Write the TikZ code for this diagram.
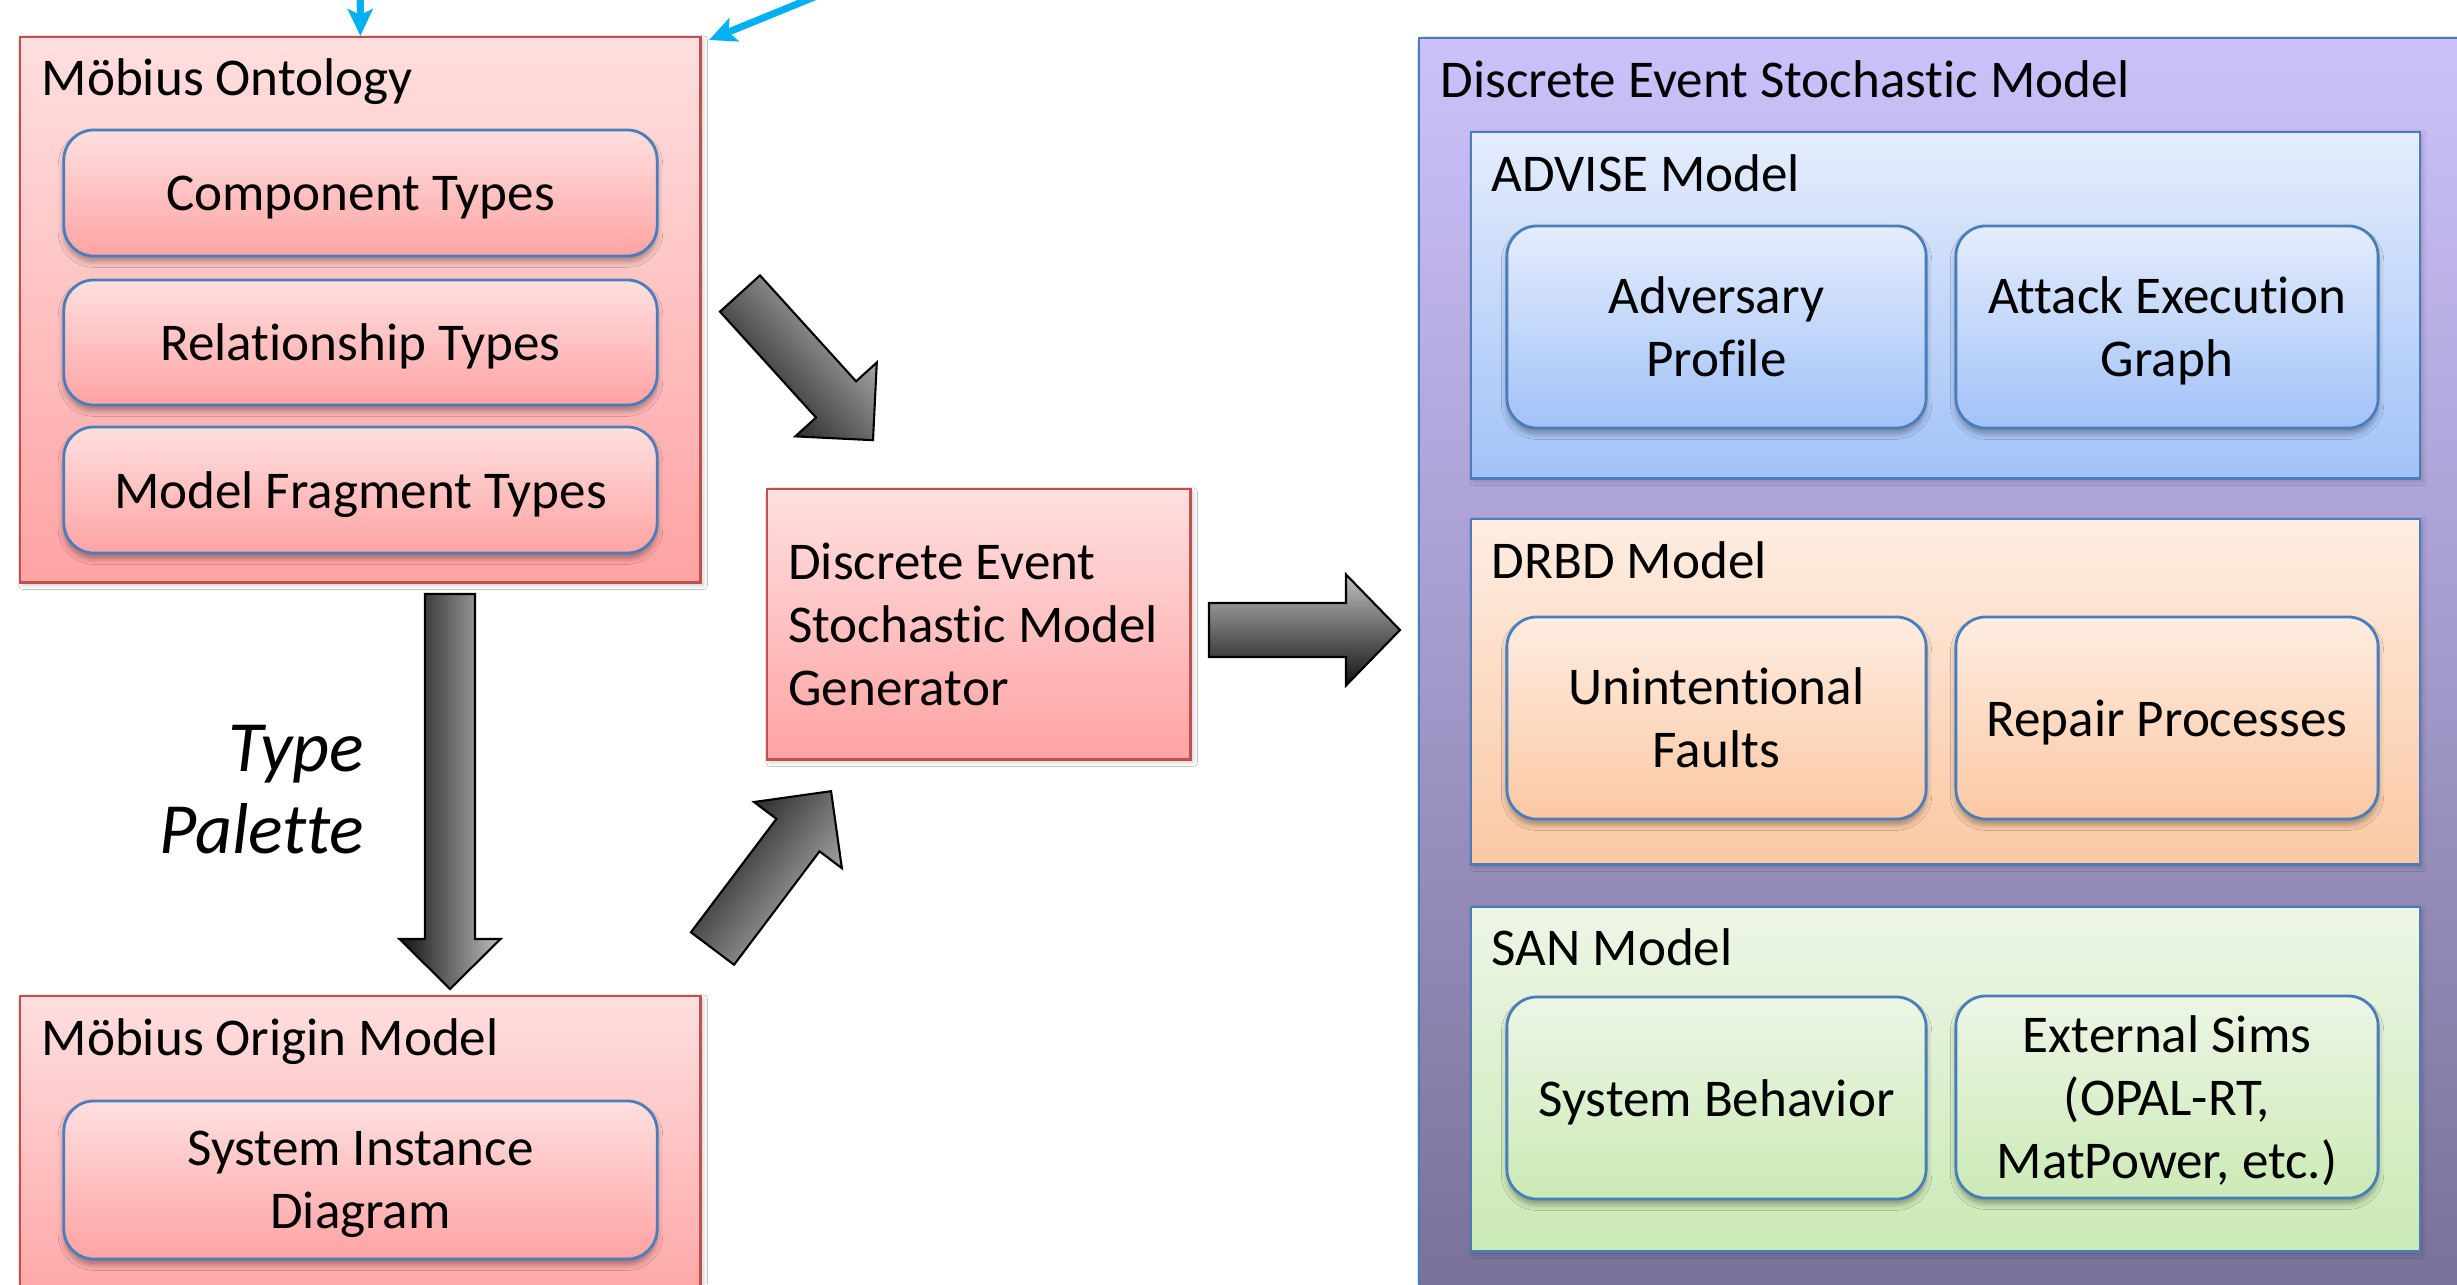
\documentclass[tikz,border=0pt]{standalone}
\usepackage{fontspec}
\setmainfont{Carlito}[Ligatures={NoCommon,NoContextual}]
\usetikzlibrary{arrows.meta,shadows.blur}
\definecolor{redB}{HTML}{C0504D}
\definecolor{blueB}{HTML}{4A7EBB}
\definecolor{pinkT}{HTML}{FFDFDF}
\definecolor{pinkB}{HTML}{FFA3A3}
\definecolor{bluT}{HTML}{E4EDFC}
\definecolor{bluB}{HTML}{A2C2F8}
\definecolor{peaT}{HTML}{FEEDE2}
\definecolor{peaB}{HTML}{FBC8A3}
\definecolor{grnT}{HTML}{EDF6E6}
\definecolor{grnB}{HTML}{CBEAB5}
\definecolor{purT}{HTML}{CDC1FB}
\definecolor{purB}{HTML}{766E96}
\definecolor{cyanA}{HTML}{00B0F0}
\tikzset{
  txt/.style={font=\fontsize{15.1pt}{17.9pt}\selectfont},
  outer/.style={draw, line width=0.7pt, anchor=north west, inner sep=0pt,
    blur shadow={shadow xshift=0.8pt, shadow yshift=-0.8pt, shadow blur radius=1.2pt, shadow opacity=20}},
  inbox/.style={draw=blueB, line width=0.8pt, rounded corners=0.3cm, align=center, txt, inner sep=0pt, text depth=0pt,
    blur shadow={shadow xshift=0pt, shadow yshift=-1.6pt, shadow blur radius=1.6pt, shadow opacity=35}},
  ttl/.style={txt, anchor=base west, inner sep=0pt},
  pinkfill/.style={top color=pinkT, bottom color=pinkB},
  blufill/.style={top color=bluT, bottom color=bluB},
  peafill/.style={top color=peaT, bottom color=peaB},
  grnfill/.style={top color=grnT, bottom color=grnB},
  blk/.style={draw=black, line width=0.6pt, line join=miter, top color=black!25, bottom color=black!93},
  bluearrow/.style={draw=cyanA, line width=2pt, -{Stealth[length=0.27cm,width=0.25cm,inset=0.06cm]}}
}
\begin{document}
\begin{tikzpicture}[x=0.01cm, y=-0.01cm]
\useasboundingbox (0,0) rectangle (2457,1284);
\fill[white] (0,0) rectangle (2457,1284);
\clip (0,0) rectangle (2457,1284);

% ---------- left column ----------
\node[outer, draw=redB, pinkfill, minimum width=6.80cm, minimum height=5.45cm] (onto) at (19,36) {};
\node[ttl] (ontot) at (41,95) {Möbius Ontology};
\node[inbox, pinkfill, minimum width=5.93cm, minimum height=1.26cm] (comp) at (360.5,193) {Component Types};
\node[inbox, pinkfill, minimum width=5.93cm, minimum height=1.25cm] (rel) at (360.5,342.5) {Relationship Types};
\node[inbox, pinkfill, minimum width=5.93cm, minimum height=1.26cm] (frag) at (360.5,490) {Model Fragment Types};

\node[outer, draw=redB, pinkfill, minimum width=6.80cm, minimum height=3.20cm] (origin) at (19,995) {};
\node[ttl] (origint) at (41,1055) {Möbius Origin Model};
\node[inbox, pinkfill, minimum width=5.93cm, minimum height=1.58cm] (sid) at (360.5,1180) {System Instance\\Diagram};

\node[anchor=east, inner sep=0pt, align=right, font=\fontsize{20.5pt}{23.3pt}\selectfont\itshape] (palette) at (365,790) {Type\\Palette};

% ---------- generator ----------
\node[outer, draw=redB, pinkfill, minimum width=4.23cm, minimum height=2.70cm, text width=3.81cm,
      inner xsep=0.21cm, align=flush left, txt] (gen) at (766,488) {Discrete Event\\Stochastic Model\\Generator};

% ---------- right column ----------
\node[outer, draw=blueB, top color=purT, bottom color=purB, minimum width=11.00cm, minimum height=13.00cm] (desm) at (1418,37) {};
\node[ttl] (desmt) at (1440,97) {Discrete Event Stochastic Model};

\node[outer, draw=blueB, blufill, minimum width=9.48cm, minimum height=3.46cm] (advise) at (1470,131) {};
\node[ttl] (adviset) at (1491,191) {ADVISE Model};
\node[inbox, blufill, minimum width=4.19cm, minimum height=2.02cm] (adv) at (1716.5,327) {Adversary\\Profile};
\node[inbox, blufill, minimum width=4.22cm, minimum height=2.02cm] (aeg) at (2167,327) {Attack Execution\\Graph};

\node[outer, draw=blueB, peafill, minimum width=9.48cm, minimum height=3.45cm] (drbd) at (1470,518) {};
\node[ttl] (drbdt) at (1491,578) {DRBD Model};
\node[inbox, peafill, minimum width=4.19cm, minimum height=2.02cm] (uf) at (1716.5,718) {Unintentional\\Faults};
\node[inbox, peafill, minimum width=4.22cm, minimum height=2.02cm] (rp) at (2167,718) {Repair Processes};

\node[outer, draw=blueB, grnfill, minimum width=9.48cm, minimum height=3.44cm] (san) at (1470,906) {};
\node[ttl] (sant) at (1491,965) {SAN Model};
\node[inbox, grnfill, minimum width=4.19cm, minimum height=2.02cm] (sb) at (1716.5,1098) {System Behavior};
\node[inbox, grnfill, minimum width=4.22cm, minimum height=2.02cm] (ext) at (2167,1097) {External Sims\\(OPAL-RT,\\MatPower, etc.)};

% ---------- block arrows ----------
% ontology -> generator
\begin{scope}[shift={(740,293.5)}, rotate=-47.8]
\shade[blk, shading angle=-48] (0,-27) -- (143,-27) -- (143,-55) -- (198,0) -- (143,55) -- (143,27) -- (0,27) -- cycle;
\end{scope}
% origin -> generator
\begin{scope}[shift={(712.5,948.5)}, rotate=53]
\shade[blk, shading angle=-127] (0,-27) -- (142,-27) -- (142,-55) -- (197,0) -- (142,55) -- (142,27) -- (0,27) -- cycle;
\end{scope}
% generator -> model
\begin{scope}[shift={(1209,630)}, rotate=0]
\shade[blk] (0,-27) -- (137,-27) -- (137,-55.5) -- (191,0) -- (137,55.5) -- (137,27) -- (0,27) -- cycle;
\end{scope}
% ontology -> origin (type palette)
\begin{scope}[shift={(450,594)}, rotate=-90]
\shade[blk, shading angle=-90] (0,-25) -- (345,-25) -- (345,-50.5) -- (395,0) -- (345,50.5) -- (345,25) -- (0,25) -- cycle;
\end{scope}

% ---------- blue arrows from above ----------
\coordinate (inA) at (360,-40);
\coordinate (inB) at (856,-20);
\coordinate (inBend) at (709,40);
\draw[bluearrow] (inA) -- (onto.north);
\draw[bluearrow] (inB) -- (inBend);
\end{tikzpicture}
\end{document}
